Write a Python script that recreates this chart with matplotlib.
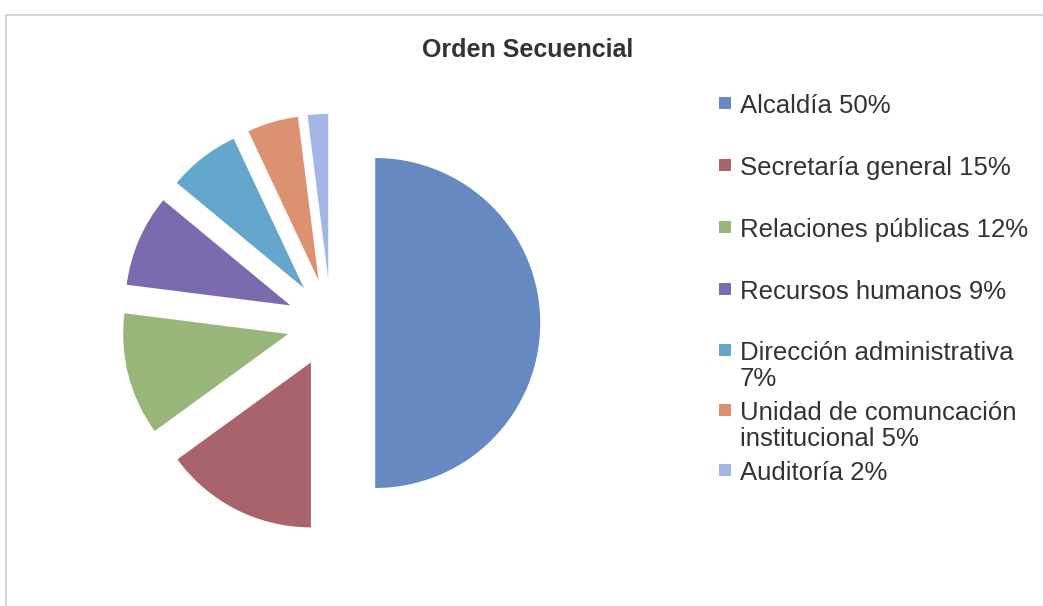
import matplotlib.pyplot as plt
from matplotlib.patches import Rectangle

plt.rcParams['font.family'] = ['Liberation Sans', 'DejaVu Sans']

labels = ["Alcaldía 50%", "Secretaría general 15%", "Relaciones públicas 12%",
          "Recursos humanos 9%", "Dirección administrativa\n7%",
          "Unidad de comuncación\ninstitucional 5%", "Auditoría 2%"]
values = [50, 15, 12, 9, 7, 5, 2]
colors = ["#6689C2", "#A8636B", "#98B57A", "#7C6AAF", "#65A6CC", "#DC9270", "#A3B6E6"]

fig = plt.figure(figsize=(10.43, 6.06), dpi=100)
W, H = 1043, 606

# chart border
fig.patches.append(Rectangle((6 / W, -0.01), 1.02, 1 - 15 / H + 0.01, transform=fig.transFigure,
                             fill=False, edgecolor="#C9CAD2", linewidth=1.2))

# pie axes: center (331, 323) px, radius 165 px
r = 165
cx, cy = 331, H - 323
ax = fig.add_axes([(cx - 1.4 * r) / W, (cy - 1.4 * r) / H, 2.8 * r / W, 2.8 * r / H])
ax.pie(values, colors=colors, startangle=90, counterclock=False,
       explode=[0.268] * len(values), radius=1,
       wedgeprops=dict(linewidth=0))
ax.set_xlim(-1.4, 1.4)
ax.set_ylim(-1.4, 1.4)
ax.set_aspect('equal')
ax.axis('off')

fig.text(528 / W, 1 - 50 / H, "Orden Secuencial", ha='center', va='center',
         fontsize=18, fontweight='bold', color='#333333')

# legend entries (y of first text line, px from top)
ys = [103, 165, 227, 289, 350, 410, 470]
for lab, col, y in zip(labels, colors, ys):
    fig.patches.append(Rectangle((719 / W, 1 - (y + 6) / H), 12 / W, 12 / H,
                                 transform=fig.transFigure, facecolor=col, edgecolor='none'))
    fig.text(740 / W, 1 - (y - 9) / H, lab, ha='left', va='top', fontsize=18.5,
             color='#333333', linespacing=1.12)

fig.savefig("out.png", dpi=100)
